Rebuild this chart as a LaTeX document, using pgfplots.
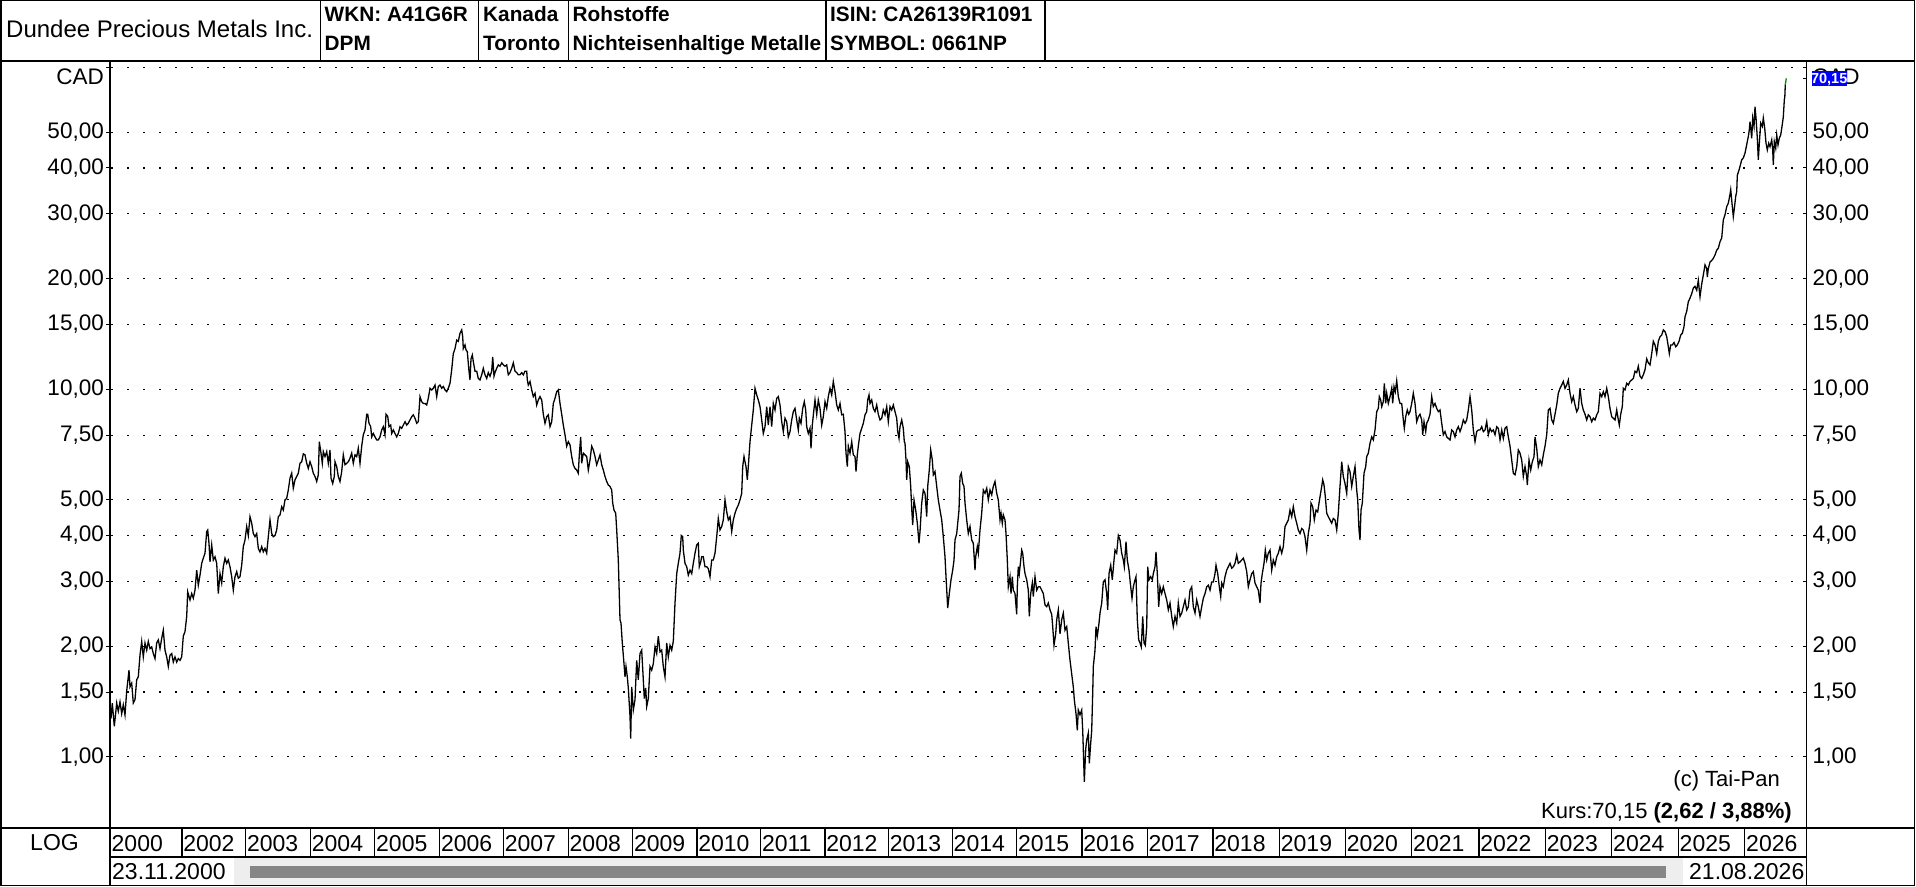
\documentclass[border=0pt]{standalone}
\usepackage{pgfplots}
\pgfplotsset{compat=1.18}
\usepackage{fontspec}
\setmainfont{Liberation Sans}
\definecolor{scrollbg}{RGB}{238,238,238}
\definecolor{scrollbar}{RGB}{134,134,134}
\definecolor{lastgreen}{RGB}{0,140,0}
\newcommand{\fs}[1]{\fontsize{#1}{#1}\selectfont}

\pgfplotstableread{
x y
111 1.27
112.3 1.40
114.3 1.21
116.7 1.40
118.3 1.33
120 1.41
121.7 1.31
123.3 1.385
125 1.30
126.7 1.51
129 1.72
130 1.55
131.7 1.585
133.3 1.40
135 1.43
136.7 1.62
138.3 1.65
140 1.89
141.7 2.06
143.3 1.87
145 2.04
146.7 1.95
148.3 2.06
150 1.97
151.7 1.99
153.3 1.91
155 1.85
156.7 2.04
158.3 2.08
160 1.97
161.7 2.10
163.3 2.21
165 1.95
166.7 1.87
168.3 1.76
170 1.89
171.7 1.91
173.3 1.81
175 1.87
176.7 1.81
178.3 1.85
180 1.83
181.7 1.87
183.3 2.13
185 2.19
186.7 2.41
187.7 2.81
190 2.67
191.7 2.78
193.3 2.70
195 2.84
196.7 3.22
198.3 2.93
200 3.12
201.7 3.36
203.3 3.47
205 3.58
206.7 4.10
207.7 4.14
209 3.81
210 3.39
211.7 3.77
213.3 3.43
215 3.50
216.7 3.36
218.3 2.78
220 3.15
221.7 2.97
223.3 3.29
225 3.47
226.7 3.36
228.3 3.43
230 3.29
231.7 3.09
233.3 2.84
235 3.09
236.7 3.19
238.3 3.06
240 3.09
241.7 3.32
243.3 3.73
245 3.89
246.7 4.23
248.3 4.00
250 4.50
251.7 4.32
253.3 4.05
255 3.97
256.7 4.05
258.3 3.69
260 3.61
261.7 3.73
263.3 3.61
265 3.69
266.7 3.58
268.3 3.97
270 4.41
271.7 4.05
273.3 3.97
275 4.00
276.7 4.14
278.3 4.50
280 4.55
281.7 4.79
283.3 4.69
285 5.00
286.7 5.05
288.3 5.32
290 5.73
291.7 5.91
293.3 5.38
295 5.67
296.7 5.79
298.3 5.91
300 6.29
301.7 6.35
303.3 6.67
305 6.63
306.7 6.29
308.3 6.09
310 6.35
311.7 6.16
313.3 5.91
315 5.79
316.7 5.61
318.3 5.85
319.3 7.20
321 6.70
322.3 6.29
323.3 6.77
325 6.56
326.7 6.77
328.3 6.29
330 6.84
331 5.73
332.7 5.54
334.3 5.79
335 6.35
336.7 6.16
338.3 5.79
340 5.61
341.7 5.97
343.3 6.63
345 6.23
346.7 6.29
348.3 6.35
350 6.49
351.7 6.70
353.3 6.29
355 6.63
356.7 6.56
358.3 6.91
360 6.29
361.7 7.00
363.3 7.52
365 7.75
366.7 8.55
367.7 8.55
369 8.08
370.7 7.91
371.7 7.42
373.3 7.58
375 7.42
376.7 7.28
378.3 7.28
380 7.42
381.7 7.75
383.3 7.91
385 7.52
386 8.55
387.7 8.44
389 7.91
390.7 7.99
391.7 7.58
393.3 7.75
395 7.58
396.7 7.42
398.3 7.58
400 7.91
401.7 7.83
403.3 7.99
405 8.16
406.7 7.99
408.3 8.08
410 8.25
411.7 8.42
413.3 8.52
415 8.34
416.7 8.08
418.3 8.16
420 9.55
421.7 9.25
423.3 9.15
425 9.15
426.7 9.06
428.3 9.45
430 10.06
431.7 9.96
433.3 10.06
435 10.27
436.7 9.55
438.3 10.17
440 10.27
441.7 10.06
443.3 10.17
445 9.96
446.7 9.85
448.3 10.06
450 10.38
451.7 11.3
453.3 12.5
455 12.9
456.7 13.6
458.3 13.5
460 14.2
461.7 14.5
462.7 13.9
463.3 12.9
465 13.2
466 12.8
467.3 12.65
469 11.2
470 10.6
471 12.1
472.3 12.4
473.3 11.9
475 11.2
476.7 11.2
478.3 10.7
480 10.6
481.7 10.95
483.3 11.4
485 10.95
486.7 10.7
488.3 11.1
490 10.85
491.7 11.2
492.7 12.25
494 10.85
495 11.1
496.7 11.4
498.3 11.65
500 11.55
501.7 11.8
503.3 11.65
505 11.55
506.7 11.65
508.3 10.95
510 11.1
511.7 11.4
513.3 11.8
515 11.2
516.7 11.1
518.3 10.95
520 10.95
521.7 11.1
523.3 10.95
525 11.2
526.7 11.2
527.3 10.6
528.3 10.27
530 10.5
531.7 9.96
533.3 9.55
535 9.75
536.7 9.06
538.3 9.35
540 9.55
541.7 9.35
543.3 8.55
545 8.08
546.7 8.42
548.3 8.52
550 7.91
551.7 8.16
553.3 9.15
555 9.45
556.7 9.85
558.3 9.96
560 9.15
561.7 8.55
563.3 7.99
565 7.52
566.7 7.00
568.3 7.20
570 7.06
571.7 6.56
573.3 6.23
575 6.09
576.7 6.03
578.3 5.91
579.3 6.63
580.7 7.42
581.7 6.29
583.3 6.70
585 6.63
586.7 6.56
588.3 6.03
590 6.42
591.7 7.00
593.3 6.84
595 6.56
596.7 6.23
598.3 6.42
600 6.63
601.7 6.23
603.3 6.03
605 5.79
606.7 5.61
608.3 5.49
610 5.44
611.7 5.32
612.7 4.90
614 4.69
615.7 4.60
616.7 4.14
618.3 3.43
620 2.36
621 2.31
622.3 2.04
624 1.79
625 1.65
626 1.76
627.3 1.65
628.3 1.54
630 1.29
630.7 1.12
631.7 1.55
633.3 1.34
635 1.43
636.7 1.83
638.3 1.62
640 1.91
641.7 1.95
643.3 1.62
644.3 1.44
645.7 1.54
646.7 1.37
648.3 1.44
650 1.76
651.7 1.72
653.3 1.79
655 1.99
656.7 1.91
658.3 2.13
660 1.93
661.7 1.95
663.3 1.76
665 1.65
666.7 2.04
668.3 1.87
670 2.01
671.7 1.95
673.3 2.06
675 2.62
676.7 3.15
678.3 3.36
680 3.58
681.3 4.00
682.7 3.97
683.3 3.65
685 3.36
686.7 3.29
688.3 3.12
690 3.22
691.7 3.15
693.3 3.36
695 3.58
696.7 3.77
698.3 3.81
699.3 3.29
700.7 3.39
701.7 3.50
703.3 3.50
705 3.29
706.7 3.29
708.3 3.25
710 3.09
711.7 3.43
713.3 3.43
715 3.58
716.7 3.97
718.3 4.45
720 4.14
721.7 4.23
723.3 4.41
725 5.00
726.7 4.64
728.3 4.41
730 4.50
731.7 4.10
733.3 4.41
735 4.60
736.7 4.74
738.3 4.84
740 5.00
741.7 5.21
742.7 6.16
744 6.56
745 6.35
746 6.16
747.3 5.67
748.3 6.16
750 7.20
751.7 7.99
753.3 8.78
755 10.06
756.7 9.65
758.3 9.35
760 8.97
761.7 8.25
763.3 7.58
765 7.91
766.7 8.97
768.3 7.99
770 8.97
771.7 7.91
773.3 9.15
775 8.78
776.7 9.45
778.3 9.55
780 9.06
781.7 8.16
783.3 7.67
785 8.34
786.7 8.16
788.3 7.42
790 7.67
791.7 8.25
793.3 8.69
795 8.87
796.7 8.25
798.3 7.75
799.3 8.34
801 8.08
802.7 8.87
804.3 9.25
805.7 8.78
806.7 7.91
808.3 7.58
810 7.83
811 6.91
812.3 7.99
813.7 8.69
815 9.35
816.7 8.55
818.3 9.35
820 8.87
821.7 7.99
823.3 8.42
825 9.25
826.7 8.87
828.3 9.55
830 10.06
831.7 9.65
833.3 10.5
835 9.85
836.7 9.06
838.3 8.78
840 9.15
841.7 8.52
843.3 8.55
845 7.67
846 6.70
847.3 6.16
848.3 7.00
850 6.70
851.7 7.20
853.3 6.63
855 6.56
856 5.97
857.3 6.63
858.3 7.00
860 7.58
861.7 7.83
863.3 8.08
865 8.52
866.7 8.69
867.7 9.35
869 9.65
870 9.15
871.7 9.35
873.3 8.87
875 8.69
876.7 9.06
878.3 8.55
880 8.25
881.7 8.34
883.3 8.78
885 8.52
886.7 8.97
888.3 8.16
890 8.97
891.7 8.78
893.3 9.06
895 8.69
896.7 8.34
897.7 7.67
899 7.35
900 7.91
901.7 8.25
903.3 7.83
904.3 7.20
905 7.13
906 6.42
906.7 5.67
907.7 6.35
909.3 6.16
910.7 5.44
911.7 4.74
912.7 4.27
914 5.00
915.7 4.69
917.3 4.32
919 3.81
920 4.10
921.7 4.90
923.3 5.32
925 5.21
926.7 4.50
927.7 5.44
929.3 6.03
930.7 6.84
932.3 6.42
933.3 5.85
935 5.97
936.7 5.44
938.3 5.00
940 4.69
941.7 4.41
943.3 3.97
945 3.50
946 3.09
947.7 2.54
949.3 2.78
951 3.03
952.7 3.22
954 3.43
955 3.89
956.7 4.05
957.7 4.32
959 4.69
960 5.79
961.3 5.91
962.7 5.54
964 5.44
965 4.90
966.7 4.41
968.3 4.05
970 4.23
971.7 3.89
973.3 3.81
975 3.22
975.7 3.50
977.3 3.73
978.3 3.58
980 4.14
981.7 4.60
983.3 5.32
985 5.21
986.7 5.38
988.3 5.00
990 5.32
991.7 5.16
993.3 5.44
995 5.61
996.7 5.21
998.3 5.00
1000 4.41
1001 4.60
1002.3 4.32
1003.3 4.55
1005 4.41
1006 4.05
1007.3 3.43
1008.3 2.90
1010 3.09
1011 2.78
1012.3 3.09
1013.3 2.84
1015 2.78
1016.7 2.44
1017.3 2.90
1018.3 3.29
1019.3 3.15
1020.7 3.43
1021.7 3.65
1022.7 3.58
1024 3.29
1025 3.15
1026.7 3.03
1028.3 2.84
1029.3 2.41
1030.7 2.78
1032.3 2.97
1033.3 2.73
1035 3.09
1036.7 2.84
1038.3 2.90
1040 2.90
1041.7 2.84
1043.3 2.78
1045 2.59
1046.7 2.56
1048.3 2.62
1050 2.51
1051.7 2.44
1052.7 2.26
1054 2.01
1055.7 2.16
1056.7 2.36
1058.3 2.51
1060 2.16
1061.7 2.36
1063.3 2.46
1065 2.21
1066.7 2.26
1068.3 2.04
1070 1.83
1071.7 1.68
1073.3 1.55
1074.3 1.43
1076 1.31
1077.3 1.18
1078.3 1.34
1080 1.30
1081.7 1.34
1082.7 1.18
1083.3 1.05
1084.3 0.855
1085.7 1.05
1086.7 1.11
1088.3 1.16
1089.3 0.96
1090.7 1.09
1091.7 1.18
1092.7 1.49
1093.3 1.76
1095 1.95
1096 2.26
1097.3 2.13
1099 2.31
1100 2.46
1101.7 2.62
1103.3 2.99
1105 3.03
1106.7 2.78
1107.7 2.51
1109 3.15
1110.7 3.32
1112.3 3.03
1114 3.43
1115 3.65
1116.7 3.58
1118.3 4.00
1120 3.89
1121.7 3.58
1123.3 3.43
1124.3 3.29
1126 3.85
1127.3 3.43
1129 3.22
1130.7 2.90
1132 2.70
1133.3 2.90
1135 3.03
1136 3.09
1137.3 2.36
1138.7 2.08
1140 2.04
1141.3 1.99
1142.7 2.41
1144 2.04
1145.3 2.01
1146.7 2.26
1147.7 3.29
1149 3.03
1150.7 3.09
1152.3 3.03
1153.3 3.15
1155 3.29
1156 3.61
1157.3 3.15
1158.7 2.56
1160 2.90
1161.7 2.78
1163.3 2.90
1165 2.78
1166.7 2.67
1168.3 2.51
1170 2.62
1171.7 2.41
1173.3 2.26
1175 2.41
1176.7 2.31
1178.3 2.62
1180 2.41
1181.7 2.46
1183.3 2.56
1185 2.67
1186.7 2.51
1188.3 2.56
1190 2.84
1191.7 2.90
1193.3 2.56
1195 2.46
1196.7 2.67
1198.3 2.56
1200 2.41
1201.7 2.56
1203.3 2.70
1205 2.78
1206.7 2.90
1208.3 2.93
1210 2.84
1211.7 2.99
1213.3 2.99
1215 3.15
1216 3.32
1217.7 3.15
1219.3 2.90
1220.7 2.73
1221.7 2.97
1223.3 2.90
1225 3.09
1226.7 3.22
1228.3 3.29
1230 3.36
1231.7 3.26
1233.3 3.29
1235 3.36
1236.7 3.54
1238.3 3.36
1240 3.39
1241.7 3.43
1243.3 3.47
1245 3.36
1246.7 3.19
1248.3 2.90
1250 3.03
1251.7 3.15
1253.3 3.19
1255 2.97
1256.7 2.90
1258.3 2.84
1260 2.62
1261 2.97
1262.3 3.15
1264 3.36
1265.3 3.65
1266.7 3.43
1268.3 3.58
1270 3.65
1271.7 3.22
1273.3 3.43
1275 3.32
1276.7 3.50
1278.3 3.58
1280 3.73
1281.7 3.58
1283.3 3.73
1285 4.23
1286.7 4.32
1288.3 4.41
1290 4.69
1291.7 4.50
1293.3 4.79
1295 4.50
1296.7 4.32
1298.3 4.14
1300 4.05
1301.7 4.18
1303.3 4.14
1305 3.97
1306.7 3.65
1308.3 4.05
1310 4.32
1311 4.90
1312.7 4.79
1314.3 4.41
1316 4.69
1317.7 4.64
1319 4.90
1320 5.10
1321.7 5.44
1322.7 5.67
1324 5.49
1325.3 5.10
1326.7 4.60
1328.3 4.50
1330 4.41
1331.7 4.32
1333.3 4.45
1335 4.41
1336.7 4.14
1338.3 4.60
1340 5.44
1341.7 6.35
1343.3 5.79
1345 5.54
1346.7 5.21
1348.3 6.16
1350 5.97
1351.7 5.44
1353.3 5.79
1355 6.16
1356.7 5.32
1357.7 5.00
1359 4.14
1360 3.89
1361 4.69
1362.3 4.90
1364 5.91
1365.7 6.16
1366.7 6.56
1368.3 6.70
1370 7.13
1371.7 7.42
1373.3 7.28
1375 7.75
1376.7 8.69
1378.3 8.87
1379.3 9.55
1380.7 9.35
1381.7 8.97
1383.3 9.25
1384.3 10.38
1385.7 9.15
1386.7 9.75
1388.3 9.15
1390 9.55
1391.7 10.06
1392.7 9.15
1394 10.17
1395.3 9.85
1396.7 10.55
1398.3 9.55
1400 9.15
1401.7 9.15
1403.3 8.25
1404.3 7.83
1405.7 8.42
1407.3 8.78
1408.7 8.55
1410 8.69
1411.7 9.15
1413.3 9.75
1415 9.15
1416.7 8.16
1418.3 8.42
1420 8.55
1421.7 8.25
1422.7 7.52
1424 8.16
1425.7 7.67
1426.7 8.08
1428.3 8.25
1430 8.55
1431.7 9.55
1433.3 8.97
1435 9.15
1436.7 8.87
1438.3 8.69
1440 8.78
1441.7 8.08
1443.3 7.52
1445 7.67
1446.7 7.42
1448.3 7.35
1450 7.28
1451.7 7.75
1453.3 7.67
1455 7.42
1456.7 7.75
1458.3 7.91
1460 7.67
1461.7 7.91
1463.3 8.25
1465 8.08
1466.7 8.25
1468.3 8.78
1470 9.55
1471.7 8.78
1473.3 7.75
1475 7.20
1476.7 7.67
1478.3 7.75
1480 7.75
1481.7 7.91
1483.3 7.67
1485 7.75
1486.7 8.16
1488.3 7.52
1490 7.83
1491.7 7.67
1493.3 7.75
1495 7.52
1496.7 7.91
1498.3 7.83
1500 7.28
1501.7 7.75
1503.3 7.35
1505 7.83
1506.7 7.91
1508.3 7.42
1510 7.00
1511.7 6.42
1513.3 5.91
1515 5.85
1516.7 6.16
1518.3 6.84
1520 6.70
1521.7 6.42
1523.3 5.79
1525 6.16
1526.7 5.79
1527.3 5.49
1529 6.42
1530.7 6.03
1532.3 6.35
1534 6.56
1535 7.42
1536.7 6.91
1538.3 6.16
1540 6.42
1541.7 6.23
1543.3 6.63
1545 7.00
1546.7 7.52
1548.3 8.78
1550 8.87
1551.7 8.25
1553.3 8.08
1555 8.55
1556.7 9.06
1558.3 9.75
1560 10.06
1561.7 10.27
1563.3 10.5
1565 10.06
1566.7 10.27
1568.3 10.6
1570 9.75
1571.7 9.25
1573.3 9.55
1575 9.06
1576.7 8.69
1578.3 8.87
1580 10.06
1581.7 9.15
1583.3 8.78
1585 8.55
1586.7 8.25
1588.3 8.52
1590 8.42
1591.7 8.16
1593.3 8.34
1595 8.25
1596.7 8.52
1598.3 8.69
1600 9.75
1601.7 9.55
1603.3 9.85
1605 9.55
1606.7 10.06
1608.3 9.55
1610 8.87
1611.7 8.42
1613.3 8.34
1615 8.25
1616.7 8.78
1618.3 8.25
1619.3 7.99
1620.7 8.55
1622.3 8.97
1623.3 10.06
1625 9.96
1626.7 10.38
1628.3 10.27
1630 10.5
1631.7 10.6
1633.3 10.7
1635 11.2
1636.7 11.1
1638.3 11.55
1640 10.85
1641.7 10.7
1643.3 10.95
1645 11.3
1646.7 12.1
1648.3 11.8
1650 11.65
1651.7 12.5
1653.3 13.5
1655 13.2
1656.7 12.5
1658.3 13.5
1660 13.9
1661.7 14.05
1663.3 14.5
1665 14.35
1666.7 13.9
1668.3 13.05
1669.3 12.5
1670.7 13.2
1672.3 13.2
1674 13.4
1675.7 13.05
1677.3 13.2
1679 13.5
1680.7 14.05
1682.3 14.2
1684 14.8
1685 15.75
1686.7 16.3
1688.3 17.3
1690 17.7
1691.7 18.2
1693.3 18.85
1695 19.05
1696.7 18.6
1698.3 19.8
1700 17.85
1701.7 19.35
1703.3 20.45
1705 21.8
1706.7 21.3
1707.3 20.2
1708.3 21.3
1710 22.2
1711.7 22.4
1713.3 22.7
1715 23.2
1716.7 23.9
1718.3 24.2
1720 25.2
1721.7 25.8
1723.3 28.9
1725 29.85
1726.7 31.4
1728.3 32.1
1730 33.9
1730.7 34.9
1732.3 31.4
1733.3 29.5
1734.3 31.0
1735.7 33.5
1736.7 34.5
1737.3 38.2
1739 39.5
1740 40.4
1741.7 42.1
1743.3 42.6
1745 43.9
1746 45.3
1747.3 47.2
1748.3 48.7
1749.3 50.8
1750 53.5
1751.7 48.2
1752.7 54.7
1754 51.9
1755 58.7
1756 54.7
1757.3 48.2
1758.3 42.1
1759.3 46.7
1760.7 53.0
1762.3 51.9
1763.3 54.7
1764.7 51.3
1766 46.7
1767.3 44.8
1768.7 46.7
1770 45.7
1771.7 47.7
1772.7 44.8
1773.3 40.8
1774.3 47.2
1775.7 45.3
1776.7 49.2
1778 46.2
1779.3 48.2
1780.7 49.2
1782 51.9
1783.3 55.1
1784.3 61.3
1784.8 62.5
1785.3 67.53
}\pricedata

\begin{document}
\begin{tikzpicture}
\path[use as bounding box] (0pt,0pt) rectangle (1916pt,886pt);

% scrollbar (drawn first, below the frame)
\begin{scope}[shift={(0pt,886pt)}, x=1pt, y=-1pt]
  \fill[scrollbg] (234,858) rectangle (1683,885);
  \fill[scrollbar] (250,866) rectangle (1666,878);
\end{scope}

\begin{axis}[
  at={(110pt,58pt)}, anchor=south west, scale only axis,
  width=1696.5pt, height=767pt,
  xmin=110, xmax=1806.5,
  ymode=log, ymin=0.64, ymax=78.2,
  xtick=\empty,
  ytick={1,1.5,2,3,4,5,7.5,10,15,20,30,40,50,75},
  yticklabels={{1,00},{1,50},{2,00},{3,00},{4,00},{5,00},{7,50},{10,00},{15,00},{20,00},{30,00},{40,00},{50,00},{}},
  yminorticks=false,
  ytick pos=left, tick align=outside, major tick length=4pt,
  yticklabel style={font=\fs{22.5}, inner sep=0pt, xshift=-2pt},
  ymajorgrids,
  major grid style={black, line width=1.2pt, dash pattern=on 1.2pt off 14.8pt, dash phase=14.7pt},
  axis line style={black, line width=1.4pt},
  tick style={black, line width=1pt},
]
\addplot[black, line width=1.3pt] table[x=x, y=y] {\pricedata};
\addplot[lastgreen, line width=1.3pt] coordinates {(1785.3,67.53) (1786.3,70.15)};
\end{axis}

\begin{axis}[
  at={(110pt,58pt)}, anchor=south west, scale only axis,
  width=1696.5pt, height=767pt,
  xmin=110, xmax=1806.5,
  ymode=log, ymin=0.64, ymax=78.2,
  axis x line=none, axis y line*=right,
  ytick={1,1.5,2,3,4,5,7.5,10,15,20,30,40,50,75},
  yticklabels={{1,00},{1,50},{2,00},{3,00},{4,00},{5,00},{7,50},{10,00},{15,00},{20,00},{30,00},{40,00},{50,00},{}},
  extra y ticks={70.15}, extra y tick labels={},
  yminorticks=false,
  tick align=inside, major tick length=4pt,
  yticklabel style={font=\fs{22.5}, anchor=west, inner sep=0pt, xshift=6pt},
  axis line style={black, line width=1.4pt},
  tick style={black, line width=1pt},
]
\end{axis}

\begin{scope}[shift={(0pt,886pt)}, x=1pt, y=-1pt]
  % frame and header
  \draw[line width=1.5pt] (0.75,0.75) rectangle (1914.5,885.25);
  \draw[line width=1.5pt] (0,61) -- (1914.5,61);
  \foreach \xx in {320.7,478.7,568.7,826,1045} \draw[line width=1.4pt] (\xx,0) -- (\xx,61);
  \node[anchor=base west, inner sep=0pt, font=\fs{24}] at (6,37.5) {Dundee Precious Metals Inc.};
  \node[anchor=base west, inner sep=0pt, font=\bfseries\fs{20.8}] at (324.5,21.7) {WKN: A41G6R};
  \node[anchor=base west, inner sep=0pt, font=\bfseries\fs{20.8}] at (324.5,50.7) {DPM};
  \node[anchor=base west, inner sep=0pt, font=\bfseries\fs{20.8}] at (483,21.7) {Kanada};
  \node[anchor=base west, inner sep=0pt, font=\bfseries\fs{20.8}] at (483,50.7) {Toronto};
  \node[anchor=base west, inner sep=0pt, font=\bfseries\fs{20.8}] at (572.5,21.7) {Rohstoffe};
  \node[anchor=base west, inner sep=0pt, font=\bfseries\fs{20.8}] at (572.5,50.7) {Nichteisenhaltige Metalle};
  \node[anchor=base west, inner sep=0pt, font=\bfseries\fs{20.8}] at (830,21.7) {ISIN: CA26139R1091};
  \node[anchor=base west, inner sep=0pt, font=\bfseries\fs{20.8}] at (830,50.7) {SYMBOL: 0661NP};
  % CAD labels and price marker
  \node[anchor=base east, inner sep=0pt, font=\fs{22.5}] at (104,85) {CAD};
  \node[anchor=base west, inner sep=0pt, font=\fs{22.5}] at (1812,85) {CAD};
  \fill[blue] (1811.7,70.7) rectangle (1846.7,86);
  \node[anchor=base, inner sep=0pt, text=white, font=\bfseries\fs{14.5}] at (1829.2,83.5) {70,15};
  % copyright and quote
  \node[anchor=base east, inner sep=0pt, font=\fs{22}] at (1780,787) {(c) Tai-Pan};
  \node[anchor=base east, inner sep=0pt, font=\fs{22}] at (1792,819) {Kurs:70,15 \textbf{(2,62 / 3,88\%)}};
  % bottom rows
  \draw[line width=1.5pt] (0,828) -- (1914.5,828);
  \draw[line width=1.4pt] (110,857) -- (1806.5,857);
  \draw[line width=1.4pt] (110,828) -- (110,885);
  \draw[line width=1.4pt] (1806.5,828) -- (1806.5,885);
  \node[anchor=base, inner sep=0pt, font=\fs{23}] at (54.5,850.5) {LOG};
  \node[anchor=base west, inner sep=0pt, font=\fs{23}] at (111.5,851.5) {2000};
  \foreach \xx/\yy in {181.9/2002,245.6/2003,310.5/2004,374.8/2005,439.7/2006,503.4/2007,568.3/2008,632.6/2009,696.9/2010,760.6/2011,824.9/2012,888.5/2013,952.3/2014,1016.7/2015,1082/2016,1147.2/2017,1213/2018,1279.5/2019,1345.4/2020,1411.8/2021,1478.9/2022,1545.4/2023,1611.8/2024,1678.3/2025,1744.8/2026}{
    \draw[line width=1.2pt] (\xx,828) -- (\xx,857);
    \node[anchor=base west, inner sep=0pt, font=\fs{23}] at (\xx+1.2,851.5) {\yy};
  }
  \node[anchor=base west, inner sep=0pt, font=\fs{23}] at (112,879) {23.11.2000};
  \node[anchor=base east, inner sep=0pt, font=\fs{23}] at (1804.5,879) {21.08.2026};
\end{scope}
\end{tikzpicture}
\end{document}
